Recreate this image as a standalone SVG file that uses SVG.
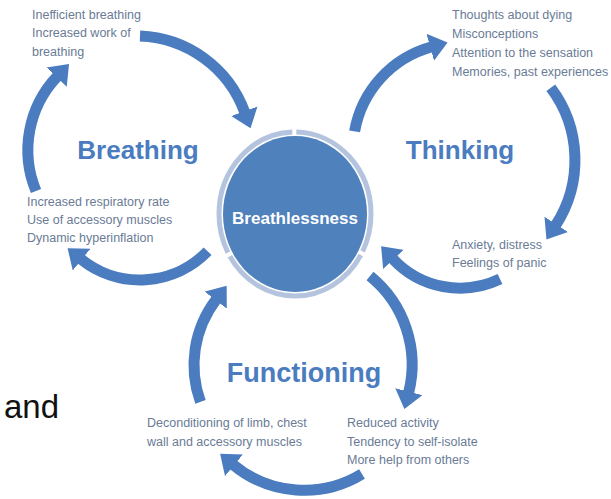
<svg xmlns="http://www.w3.org/2000/svg" width="611" height="499" viewBox="0 0 611 499">
  <style>
    .arc { fill: none; stroke: #4a7cbf; stroke-width: 11; marker-end: url(#head); }
    .title { font-family: "Liberation Sans", Arial, sans-serif; font-weight: bold; fill: #4a7cbf; font-size: 26px; text-anchor: middle; }
    .note { font-family: "Liberation Sans", Arial, sans-serif; fill: #6a7b96; font-size: 12.5px; }
    .core { font-family: "Liberation Sans", Arial, sans-serif; font-weight: bold; fill: #ffffff; font-size: 17px; text-anchor: middle; }
  </style>
  <defs>
    <marker id="head" markerUnits="userSpaceOnUse" viewBox="0 0 20 28" markerWidth="20" markerHeight="28" refX="1" refY="14" orient="auto">
      <path d="M0,0 L18,14 L0,28 z" fill="#4a7cbf"/>
    </marker>
  </defs>
  <rect width="611" height="499" fill="#ffffff"/>

  <!-- curved arrows of the three cycles -->
  <g id="connectors">
    <path class="arc" d="M140,36 A116,116 0 0 1 244.7,112.2"/>
    <path class="arc" d="M36,191 A107,107 0 0 1 57.3,76.4"/>
    <path class="arc" d="M207.6,251.3 A94,94 0 0 1 80.8,259"/>
    <path class="arc" d="M354.6,131.4 A107,107 0 0 1 431.2,47"/>
    <path class="arc" d="M550.8,87.8 A120,120 0 0 1 555.7,225.2"/>
    <path class="arc" d="M500,279 A92,92 0 0 1 392.7,258.7"/>
    <path class="arc" d="M370,276 A114,114 0 0 1 408.6,392.6"/>
    <path class="arc" d="M362,474 A111,111 0 0 1 233.2,464.7"/>
    <path class="arc" d="M200.5,401.9 A108,108 0 0 1 216.3,299.3"/>
  </g>

  <!-- central node -->
  <g id="breathlessness">
    <ellipse cx="295" cy="214" rx="72" ry="78" fill="#4f81bd"/>
    <ellipse cx="295" cy="214" rx="76" ry="82" fill="none" stroke="#b5c4de" stroke-width="5" pathLength="360" stroke-dasharray="117 3" stroke-dashoffset="89"/>
    <text class="core" x="295" y="224" textLength="126">Breathlessness</text>
  </g>

  <g id="breathing">
    <text class="title" x="138" y="159">Breathing</text>
    <text class="note" x="32" y="19">Inefficient breathing</text>
    <text class="note" x="32" y="37">Increased work of</text>
    <text class="note" x="32" y="56">breathing</text>
    <text class="note" x="27" y="206">Increased respiratory rate</text>
    <text class="note" x="27" y="224">Use of accessory muscles</text>
    <text class="note" x="27" y="242">Dynamic hyperinflation</text>
  </g>

  <g id="thinking">
    <text class="title" x="460" y="159">Thinking</text>
    <text class="note" x="452" y="19">Thoughts about dying</text>
    <text class="note" x="452" y="38">Misconceptions</text>
    <text class="note" x="452" y="57">Attention to the sensation</text>
    <text class="note" x="452" y="76">Memories, past experiences</text>
    <text class="note" x="452" y="249">Anxiety, distress</text>
    <text class="note" x="452" y="267">Feelings of panic</text>
  </g>

  <g id="functioning">
    <text class="title" x="304" y="382" style="font-size:27px">Functioning</text>
    <text class="note" x="147" y="427">Deconditioning of limb, chest</text>
    <text class="note" x="147" y="446">wall and accessory muscles</text>
    <text class="note" x="347" y="427">Reduced activity</text>
    <text class="note" x="347" y="446">Tendency to self-isolate</text>
    <text class="note" x="347" y="464">More help from others</text>
  </g>

  <text x="4" y="418" font-family="'Liberation Sans', Arial, sans-serif" font-size="33" fill="#111111">and</text>
</svg>
